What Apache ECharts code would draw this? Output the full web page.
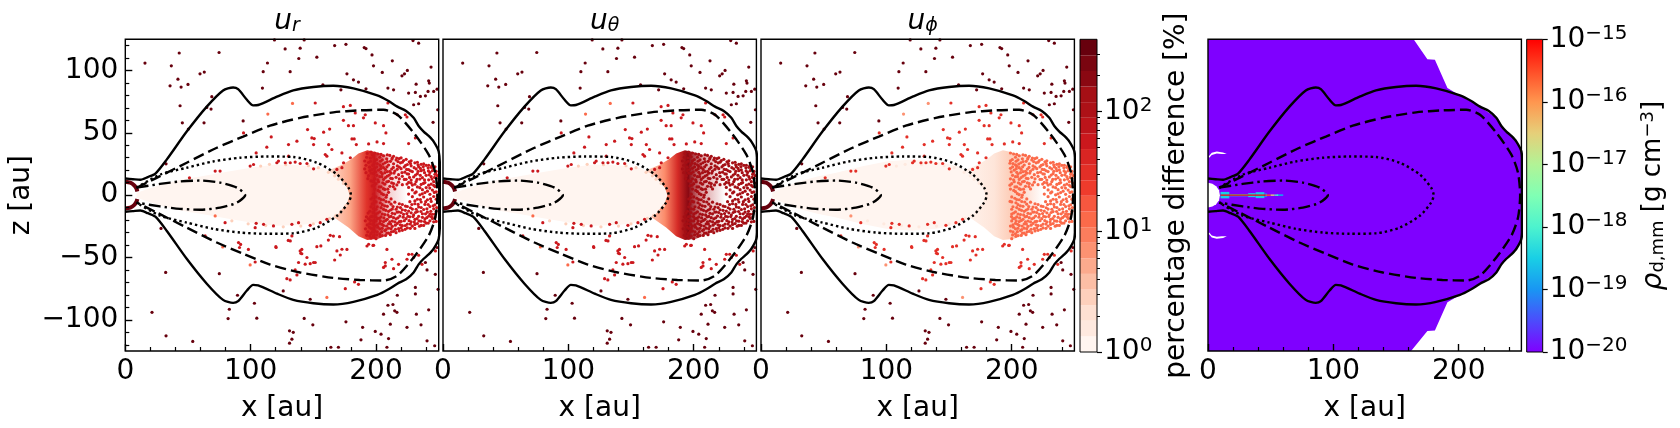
<!DOCTYPE html>
<html>
<head>
<meta charset="utf-8">
<style>
    * { margin: 0; padding: 0; }
    body { background: #fff; }
</style>
<script src="https://cdn.jsdelivr.net/npm/echarts@6/dist/echarts.min.js"></script>
</head>
<body>
<div id="chart" style="width:1680px;height:428px;"></div>
<script>
var panelTitles = ['{u|u}{s|r}', '{u|u}{s|θ}', '{u|u}{s|ϕ}'];
var xMajor = [0, 100, 200];
var xMinor = [20, 40, 60, 80, 120, 140, 160, 180, 220, 240];
var zMajor = [-100, -50, 0, 50, 100];
var zMinor = [-120, -110, -90, -80, -70, -60, -40, -30, -20, -10, 10, 20, 30, 40, 60, 70, 80, 90, 110, 120];

// contours [x au, z au]
var solidUpper = [[0,13.3],[6,12.8],[12,12.3],[18,14.5],[24,17.3],[33,28.5],[49,51],[65,71],[78,84],[86,86.4],[90,85],[97,76.5],[102,72],[106,72.3],[121,79],[134,84],[150,86.7],[166,87.7],[182,85.6],[201,80],[210,75.5],[217,71],[224,67.5],[230,62],[234,55.5],[238,51],[242,47.5],[246,43],[250,35],[251,20],[251,0]];
var solidLower = [[251,0],[251,-20],[250,-35],[246,-43],[242,-47.5],[238,-51],[234,-55.5],[230,-62],[224,-67.5],[217,-71],[210,-75.5],[201,-80],[182,-85.6],[166,-87.7],[150,-86.7],[134,-84],[121,-79],[106,-72.3],[102,-72],[97,-76.5],[90,-85],[86,-86.4],[78,-84],[65,-71],[49,-51],[33,-28.5],[24,-17.3],[18,-14.5],[12,-12.3],[6,-12.8],[0,-13.3]];
var dashedContour = [[9,5.9],[25,13.9],[49,26],[73,38],[94,47],[115.5,55.7],[139.5,62],[166,66.4],[187,68],[206,68.5],[217,64.5],[230,50],[242,32.5],[247.3,18],[249,0],[247.3,-18],[242,-32.5],[230,-50],[217,-64.5],[206,-68.5],[187,-68],[166,-66.4],[139.5,-62],[115.5,-55.7],[94,-47],[73,-38],[49,-26],[25,-13.9],[9,-5.9]];
var dottedContour = [[9,6],[27.7,16.5],[49,22],[70,27],[91.6,30],[113,31],[134,30.6],[153,26],[169,16.5],[178,6],[180,0],[178,-6],[169,-16.5],[153,-26],[134,-30.6],[113,-31],[91.6,-30],[70,-27],[49,-22],[27.7,-16.5],[9,-6]];
var dashDotContour = [[9,6],[27.7,9],[43.7,11],[59.6,11.7],[75.7,10],[89,6],[95.6,0],[89,-6],[75.7,-10],[59.6,-11.7],[43.7,-11],[27.7,-9],[9,-6]];
var ringUpper = [[0,10.7],[4,10],[7,8],[8.8,5.5],[9.6,3]];
var ringLower = [[9.6,-3],[8.8,-5.5],[7,-8],[4,-10],[0,-10.7]];

// particles outside the solid contour
var outerDots = [[15.7,105.9],[36.7,103.7],[43,114],[42,93],[35.7,87.7],[44.5,86.7],[50,88.8],[59.6,97.3],[63,98.7],[74.8,114.4],[43.7,71.7],[69,79],[65,70.4],[68.4,69],[45.5,58],[50.3,53],[62.8,58],[94,59.5],[109.4,85.9],[110,99],[113.4,106],[119,124.5],[127.5,117.3],[131.5,99],[138.4,109.6],[139.5,117.9],[142.7,124.5],[152.8,110.7],[167,120],[176,121],[190.6,118.4],[192,117.6],[196.8,112.5],[213,107.7],[198,103.7],[205,98.4],[220.7,95.7],[222.7,97.3],[225,100],[229.5,124],[234,121.9],[243.9,102.7],[232,89],[242,91.7],[242.5,89.9],[241.5,83.2],[248.7,85],[231.4,82.4],[226,81.9],[209.5,85.9],[214,84.5],[192,85.3],[186,90.7],[182,92.5],[176.8,97.3],[157.6,88.5],[172,84.5],[235.4,79.2],[239.4,79.7],[246,83.2],[230,72.5],[234,73.3],[249.2,68.5],[245.5,58.4],[32.5,25.1],[28.5,-26.7],[32.2,-62],[75,-63],[83,-91.5],[82,-99],[89.5,-80.3],[103,-86.7],[104.9,-98.7],[21.3,-94],[32.5,-112.8],[53.8,-117.3],[126,-76.8],[131,-108.8],[134,-110],[132.9,-115.5],[131,-118.7],[142.7,-98.9],[149.6,-104],[164,-122],[170,-122],[176,-101.6],[188,-116],[189.3,-106],[199.4,-109.3],[204,-111.5],[210,-115],[208.7,-122],[206,-95.5],[209.5,-88.3],[213.5,-87.7],[211.4,-103.5],[214.9,-92.8],[216.7,-94],[224.7,-106],[217,-80.3],[231.4,-79.2],[231.4,-74],[242,-92],[235.9,-104],[232.2,-95.5],[240.7,-116.8],[246.8,-120.8],[249.5,-75.5],[240.7,-60],[247.3,-63.5],[248.7,-42],[239.4,-54],[147.5,-83.5]];

// particles between the solid contour and the dense core
var midDots = [[151.5,73.9],[174,71],[179.5,72],[191.4,64.5],[190,62],[183.4,65.9],[174,60],[182,55.7],[178,55.7],[199.4,57.9],[206,55.7],[217,64.5],[223.4,64.5],[224.7,62.7],[209.5,73.9],[94.3,49.9],[116.4,46.7],[145.4,52.6],[150.7,45.4],[158.2,50.5],[163,53],[136.9,43.3],[130.2,40.6],[150.2,40.6],[162.2,40.6],[164.8,36.6],[159.5,32.6],[160.8,31.3],[180.8,45.1],[182.6,45.1],[184.3,40.6],[194.1,41.1],[200.8,42.7],[207.9,49.9],[206,41.4],[226,41.4],[231.4,45.9],[104.4,33.9],[130.2,31.3],[112.9,38.5],[148.8,45.9],[172.8,33.9],[179.5,30],[174.1,26],[168.8,20.6],[172.8,22],[102.3,24.6],[99.6,23.3],[120.9,26],[122.2,27.3],[127.6,26],[131.6,26],[135.5,26.5],[139.5,25.4],[144.9,25.4],[150.2,21.1],[71.7,19.3],[75.6,19.3],[51.2,13.9],[132.9,-32.7],[131.6,-36.7],[90.3,-38],[91.1,-42],[63.7,-32.7],[120.1,-41.3],[139.5,-44.7],[140,-46.6],[152.8,-41.3],[156,-40.7],[144.9,-50],[150.2,-54],[143.5,-55.4],[168.8,-44.7],[172.8,-43.4],[163.5,-32.2],[170.9,-33.3],[194.1,-39.4],[198.1,-40.2],[212.7,-51.4],[207.4,-54],[206,-58],[228.7,-47.4],[234,-48.2],[224.7,-51.4],[247.4,-44.7],[104.4,-22.6],[110.3,-23.4],[103.6,-26.1],[118.2,-24.7],[132.9,-23.4],[138.2,-22.1],[147.5,-24.2],[155.5,-22.1],[160.8,-19.4],[79.6,-22.1],[92,-39.5],[98.2,-43.5],[103.6,-53.6],[120.3,-42],[130,-36.3],[140.8,-43.5],[140.8,-47],[147.5,-55],[151.5,-54],[138.2,-54],[128.9,-67],[135.5,-60],[136.9,-64],[131.5,-68],[162,-36],[166,-32.8],[171.5,-48],[167,-52],[176.8,-43.5],[175.5,-75],[182.9,-69.6],[186,-71.5],[192.8,-40.8],[197.6,-40.3],[208.7,-43.5],[218,-55.5],[214,-59],[207.4,-56.8],[236.7,-55.5],[230,-50],[226,-47.5]];

var paleDots = [[133.4,73.6],[113.7,65],[77.7,-41.6],[99.6,-56],[160.8,-82],[71.7,-16.7]];

// dense right part of the core
var denseDots = [[197,32.4],[201.5,33],[206,31.6],[211,31.9],[195.5,29.8],[203,30.4],[208.5,29.2],[213,30],[218.5,29.3],[199,27.6],[205,28.3],[211.5,27.1],[216,28.2],[222,27.7],[226.5,26.8],[194,26.2],[201,25.3],[207.3,26],[214,25.2],[219.5,25.9],[225,24.6],[231,25.9],[236,24.7],[197.3,23.9],[204,23.1],[210,24.2],[217,23.4],[222.5,22.6],[228,23.5],[234,22.8],[240,23.9],[244,22.3],[199,21.5],[206,22],[212.5,20.9],[220,21.2],[226,20.4],[232,21],[238,20.2],[246,21.3],[195,19.7],[202,20],[209,18.8],[215,19.3],[223,18.4],[229,18.9],[236,19.6],[243,18.2],[248,19.1],[198,17.4],[205,16.9],[212,17.6],[218,16.4],[226,16.9],[233,17.2],[240,15.9],[247,16.7],[194,15.6],[203,14.8],[209,15.2],[216,14.3],[221,15.1],[230,14.6],[237,14],[244,14.8],[199,13.1],[206,12.6],[213,13.3],[224,12.7],[228,12.1],[235,12.9],[242,12.3],[248,13.5],[196,11.4],[202,10.8],[210,11.1],[218,10.4],[226,10.2],[232,10.9],[239,10.1],[246,10.8],[200,9.2],[207,8.8],[214,9.3],[221,8.4],[229,8.1],[236,8.6],[244,8.9],[197,7.4],[204,6.7],[211,7.1],[226,6.2],[233,6.6],[240,6.1],[247,6.9],[199,4.9],[207,4.6],[215,5],[229,4.2],[237,4.4],[245,4.1],[203,2.8],[210,2.3],[232,2.6],[239,2.1],[248,2.7],[198,0.8],[206,0.4],[226,0.9],[235,0.3],[243,0.7],[200,-1.4],[208,-1.7],[229,-1.2],[238,-1.5],[246,-1.1],[196,-3.1],[204,-3.5],[212,-3],[233,-3.3],[241,-3.7],[248,-3.2],[200,-5.4],[208,-5.1],[215,-5.6],[227,-5.2],[236,-5.5],[244,-5],[197,-7],[205,-7.6],[212,-7.2],[221,-7.5],[231,-6.9],[239,-7.4],[247,-7.7],[201,-9.3],[209,-9],[217,-9.6],[225,-9.1],[234,-9.5],[243,-9.2],[198,-11],[206,-11.4],[213,-11.1],[221,-11.7],[229,-11.2],[238,-11.5],[246,-11],[195,-12.9],[203,-13.4],[210,-13],[218,-13.5],[226,-12.8],[233,-13.2],[241,-13.6],[248,-12.9],[200,-15.1],[207,-15.6],[215,-15],[222,-15.4],[230,-15.8],[237,-14.9],[245,-15.3],[197,-17],[204,-17.5],[212,-17.1],[219,-16.8],[227,-17.4],[234,-17],[242,-16.9],[247,-17.6],[194,-19],[201,-18.8],[209,-19.4],[216,-19],[224,-18.9],[231,-19.5],[239,-19.1],[245,-18.7],[198,-20.7],[206,-21.2],[213,-20.8],[220,-21],[228,-21.4],[236,-20.9],[243,-20.6],[248,-21.1],[195,-22.9],[203,-22.6],[210,-23],[217,-22.7],[225,-23.2],[233,-22.8],[240,-22.5],[199,-24.8],[206,-24.4],[213,-25],[221,-24.5],[229,-24.9],[236,-24.3],[196,-26.6],[203,-27],[210,-26.5],[218,-26.9],[225,-26.3],[231,-26.7],[199,-28.8],[207,-28.4],[214,-29],[221,-28.2],[196,-30.7],[203,-31],[210,-30.4],[216,-30.1],[198,-32.8],[205,-32.4]];
var denseDotsMore = [[193,33.5],[196,34.6],[199,33.8],[204,32.7],[209,32.4],[214,31.2],[216.5,29.7],[220,29.9],[224,28.7],[228,27.5],[233,26.4],[238,25.1],[242,24],[247,22.7],[192.5,30.4],[198,30.7],[200.5,28.6],[203.5,27.2],[209,26.9],[212.7,28.9],[217.5,26.9],[221,26.4],[227.5,25.3],[233.5,24.4],[237.7,22.9],[241.6,21.9],[244.8,23.7],[191,27.4],[195.6,27.2],[198.6,25.6],[203,24.4],[205.6,24.9],[208.7,22.7],[213.8,22.2],[218.6,22.4],[223.6,23.9],[230.4,22],[235.4,21.4],[241.8,19.4],[247.6,17.4],[192,24],[194.8,22.4],[200.7,22.7],[203.6,21.2],[207.5,20.6],[211,19.1],[216.9,20.7],[224.4,20.6],[227.5,19.5],[233.6,19.1],[238.7,18],[245,19.6],[191,21],[196.7,20.4],[199.6,18.6],[204,18.3],[207,18],[210.6,16.1],[214.4,17.7],[220.7,18],[224.8,17.1],[231.5,16.1],[235.3,15.9],[242.4,16.3],[249,15.6],[192,18],[196,17.7],[200.7,15.9],[204.6,14.8],[207.5,14.1],[211.7,13.5],[218.6,13.1],[222.6,12.6],[226.7,14.2],[232.7,12.6],[238.7,12.2],[244.6,12.9],[246.7,14.2],[193.5,13.2],[197.7,11],[201.5,12.3],[205.4,9.9],[208.6,10.7],[212.5,9.8],[216.6,8.2],[224.7,8.9],[231,8.8],[237.8,9.4],[242,8],[248.6,9.7],[198.6,8],[202.6,6.6],[205.9,5.2],[209.4,4.8],[213.7,6.9],[228,9.8],[235,6],[242.9,5.7],[246,7.9],[201.6,3.8],[204.5,1.2],[208.5,0.1],[231,1.8],[236.9,1.1],[241,3.2],[246.5,2.2],[249,-0.2],[197.4,-1.9],[202.5,-2.5],[206,-3.7],[210.4,-5.5],[231,-4.6],[235.4,-3.5],[239.6,-5.2],[243.5,-2.9],[198.7,-5],[203.4,-6.1],[206.9,-8.6],[213.6,-9.2],[218.6,-6.9],[223.5,-8.8],[228.6,-7.5],[233.6,-7.4],[241.6,-7.5],[245.6,-8.6],[196,-9.4],[200,-11.3],[204,-10],[207.8,-12.2],[211.6,-11.9],[216,-11.3],[219.5,-10],[223.4,-12.2],[227.5,-10.1],[232,-11.3],[236,-9.9],[240.6,-11],[243.7,-13],[248.4,-10],[193.7,-14.4],[197.7,-13.9],[201.5,-14.3],[205,-15.1],[209.5,-15.9],[213,-14.6],[216.8,-13.6],[220,-13.9],[224.6,-14.8],[228,-14.2],[231.5,-13.9],[235.8,-13.1],[239.5,-15],[243,-15.2],[247,-15.2],[192.4,-17.4],[195.7,-17.4],[199.8,-17.2],[202.5,-18.6],[206.3,-18.3],[210.6,-17.4],[214,-18.1],[217.5,-18.2],[221.7,-17.7],[225.5,-17],[229.5,-17.2],[232.7,-18.8],[237,-17.8],[240.5,-18.1],[244.2,-17.3],[191.5,-20.6],[195.6,-20.3],[200,-20.7],[203.5,-20.6],[207.7,-20.3],[211,-21.4],[215,-21.4],[218.6,-21.3],[222.6,-20.5],[226.4,-20.5],[230.6,-21.6],[234.2,-20.7],[238.7,-21.2],[241.7,-22.4],[246,-21.4],[193,-23.9],[197.4,-23.3],[201,-23.8],[204.7,-23.4],[208.4,-24.8],[211.7,-23.2],[215.4,-24.1],[219.4,-23.8],[223.4,-24.4],[227.4,-23.2],[231,-23.5],[234.7,-24.9],[238,-24.3],[191.6,-27],[194.6,-25.6],[198,-26.7],[201.4,-25.7],[204.9,-26.6],[208,-27.6],[212,-26.9],[215.5,-27.4],[220,-26.3],[223.2,-27.4],[227.3,-26.6],[193.4,-29.4],[197.3,-29.1],[201,-29.4],[204.5,-29.3],[208.6,-30.4],[212.3,-29.4],[218.6,-28.7],[192.5,-32.2],[195,-32.7],[200.7,-31.9],[203.3,-33],[207.6,-32.3],[211.4,-31.7],[196,-34.4],[200,-34.9]];

// pale edge of the core, seen only as light specks
var coreEdgeDots = [[108,23.3],[115,24.7],[128,24.4],[146,23.6],[154,22],[162,18.3],[167,15.5],[170,12.8],[174,9.4],[176,-8.6],[172,-13],[168,-16.2],[163,-18.6],[150,-23],[140,-24.8],[126,-25.4],[112,-24.4],[98,-23],[85,-20.6]];

// estimated percentage per particle group, one value per panel
var outerPct = [380, 380, 380];
var midPct = [62, 62, 34];
var palePct = [11, 11, 7];
var densePct = [62, 125, 12];
var coreEdgePct = [3, 3, 1.5];

// the pale core and the dense core as outlines
var coreOutline = [[9,2],[18,5],[30,9],[45,12.5],[60,15],[80,18.5],[100,22],[120,24.5],[140,24],[158,21.5],[170,15],[177,6],[179,0],[177,-6],[170,-15],[158,-21.5],[140,-24],[120,-24.5],[100,-22],[80,-18.5],[60,-15],[45,-12.5],[30,-9],[18,-5],[9,-2]];
var coreOutlinePhi = [[9,2],[18,6],[30,11],[45,15],[60,18],[80,23],[100,27],[120,28.5],[140,27],[158,23],[170,15],[177,6],[179,0],[177,-6],[170,-15],[158,-23],[140,-27],[120,-28.5],[100,-27],[80,-23],[60,-18],[45,-15],[30,-11],[18,-6],[9,-2]];
var capOutline = [[160,19],[172,24],[180,28.5],[186,33.5],[193,36],[202,34],[212,31],[225,27],[225,0],[225,-25],[212,-31],[202,-35],[193,-36],[186,-33],[178,-26],[168,-19],[160,-14]];
var capStops = [
    [[0,'#fee5d9'],[0.3,'#fca486'],[0.5,'#e0332a'],[0.6,'#cb181d'],[0.78,'rgba(203,24,29,0.2)'],[1,'rgba(203,24,29,0)']],
    [[0,'#fee0d2'],[0.26,'#fb8b6a'],[0.42,'#d42a26'],[0.55,'#8a0812'],[0.72,'rgba(165,15,21,0.4)'],[1,'rgba(165,15,21,0)']],
    [[0,'#fff5f0'],[0.4,'#fee5d9'],[0.58,'#fdd0bc'],[0.75,'rgba(252,182,156,0.5)'],[1,'rgba(252,182,156,0)']]
];

// density panel shapes
var purpleOutline = [[0,125],[164,125],[175,109],[181,108.5],[191,86],[201,80],[217,71],[230,62],[238,51],[246,43],[250,35],[250,-35],[246,-43],[238,-51],[230,-62],[217,-71],[201,-80],[191,-86],[181,-108.5],[175,-109],[162,-125],[0,-125]];
var holeOutline = [[0,10],[3.5,9.2],[6.5,7.2],[8.8,4],[9.5,0],[8.8,-4],[6.5,-7.2],[3.5,-9.2],[0,-10]];
var crescentUp = [[0.5,31],[3,34],[7,35],[12,34.3],[15,33],[11,33],[7,33.4],[3,32.3],[1,30]];
var crescentDown = [[0.5,-31],[3,-34],[7,-35],[12,-34.3],[15,-33],[11,-33],[7,-33.4],[3,-32.3],[1,-30]];
// x0, x1, z0, z1, log10 rho
var jetCells = [[10,17,-2.6,2.6,-18.3],[17,32,-0.9,0.9,-18.3],[32,38,-1.6,1.6,-18.3],[38,45,-2.4,2.4,-18.6],[45,47,-1.4,1.4,-18.8],[55,60,-0.7,0.7,-18.8],[10,46,-0.45,0.45,-15],[46,50,-0.55,0.55,-15.6],[50,53,-0.55,0.55,-16.6],[53,56,-0.55,0.55,-17.8]];

// colour bars
var pctEdges = [1,1.35,1.82,2.45,3.3,4.46,6,8.1,10.9,14.7,19.9,26.8,36.1,48.7,65.7,88.6,119.5,161,217,293,398.1];
var pctColors = ['#fff5f0','#fee9df','#fee0d2','#fdd0bc','#fcbea5','#fcaa8d','#fc9272','#fb7d5d','#fb6a4a','#f6573f','#ef3b2c','#e32f27','#d92523','#cb181d','#bc141a','#ad1117','#a50f15','#8a0812','#7a0510','#67000d'];
var pctMajor = [0, 1, 2];
var pctMinor = [0.301,0.477,0.602,0.699,0.778,0.845,0.903,0.954,1.301,1.477,1.602,1.699,1.778,1.845,1.903,1.954,2.301,2.477];
var rhoMajor = [-20, -19, -18, -17, -16, -15];
var rainbowStops = ['#8000ff','#4c4cfc','#1996f3','#19cfe5','#4df3ce','#80ffb4','#b2f396','#e6cf79','#ff964f','#ff4c27','#ff0000'];

var font = 'DejaVu Sans';
var panelLeft = [125.3, 443, 761, 1208];
var grids = [], xAxes = [], yAxes = [], series = [];

function pctColor(pct) {
    for (var i = 0; i < pctColors.length; i++) {
        if (pct <= pctEdges[i + 1]) return pctColors[i];
    }
    return pctColors[pctColors.length - 1];
}

function rhoColor(logRho) {
    return rainbowStops[Math.round((logRho + 20) / 5 * (rainbowStops.length - 1))];
}

function polygon(g, pts, fill, z) {
    return {
        type: 'custom', xAxisIndex: g * 2, yAxisIndex: g * 2, data: [[0, 0]], z: z, silent: true,
        renderItem: function (params, api) {
            return { type: 'polygon', shape: { points: pts.map(function (p) { return api.coord(p); }) }, style: { fill: fill } };
        }
    };
}

function rects(g, cells, z) {
    // cells: [x0, x1, y0, y1, colour]
    return {
        type: 'custom', xAxisIndex: g * 2, yAxisIndex: g * 2, data: cells.map(function (c, i) { return [i, 0]; }), z: z, silent: true,
        renderItem: function (params, api) {
            var c = cells[params.dataIndex];
            var a = api.coord([c[0], c[3]]), b = api.coord([c[1], c[2]]);
            return { type: 'rect', shape: { x: a[0], y: a[1], width: b[0] - a[0], height: b[1] - a[1] }, style: { fill: c[4] } };
        }
    };
}

function dots(g, pts, color) {
    return {
        type: 'scatter', xAxisIndex: g * 2, yAxisIndex: g * 2, data: pts, symbolSize: 3.2, z: 3, silent: true, large: false,
        itemStyle: { color: color, opacity: 1 }
    };
}

function line(g, pts, width, dash, color) {
    return {
        type: 'line', xAxisIndex: g * 2, yAxisIndex: g * 2, data: pts, showSymbol: false, symbol: 'none', smooth: 0.25, z: 4, silent: true,
        lineStyle: { color: color || '#000', width: width, type: dash, cap: 'butt' }
    };
}

function addPanel(i) {
    var left = panelLeft[i];
    grids.push({ left: left, top: 39.3, width: 313.4, height: 312.7, show: true, borderColor: '#000', borderWidth: 1.4, backgroundColor: 'transparent', z: 6 });
    xAxes.push({
        gridIndex: i, type: 'value', min: 0, max: 250, position: 'bottom', z: 7,
        name: 'x [au]', nameLocation: 'middle', nameGap: 44, nameTextStyle: { fontFamily: font, fontSize: 28, color: '#000' },
        axisLine: { show: false, onZero: false }, splitLine: { show: false },
        axisTick: { inside: true, length: 7, customValues: xMajor, lineStyle: { color: '#000', width: 1.4 } },
        axisLabel: { customValues: xMajor, margin: 7, fontFamily: font, fontSize: 28, color: '#000', hideOverlap: false }
    });
    xAxes.push({
        gridIndex: i, type: 'value', min: 0, max: 250, position: 'bottom', z: 7,
        axisLine: { show: false, onZero: false }, splitLine: { show: false }, axisLabel: { show: false },
        axisTick: { inside: true, length: 4, customValues: xMinor, lineStyle: { color: '#000', width: 1.2 } }
    });
    var showZ = i === 0;
    yAxes.push({
        gridIndex: i, type: 'value', min: -125, max: 125, position: 'left', z: 7,
        name: showZ ? 'z [au]' : '', nameLocation: 'middle', nameGap: 90, nameRotate: 90, nameTextStyle: { fontFamily: font, fontSize: 28, color: '#000' },
        axisLine: { show: false, onZero: false }, splitLine: { show: false },
        axisTick: { show: showZ, inside: true, length: 7, customValues: zMajor, lineStyle: { color: '#000', width: 1.4 } },
        axisLabel: {
            show: showZ, customValues: zMajor, margin: 7, fontFamily: font, fontSize: 28, color: '#000',
            formatter: function (v) { return String(v).replace('-', '\u2212'); }
        }
    });
    yAxes.push({
        gridIndex: i, type: 'value', min: -125, max: 125, position: 'left', z: 7,
        axisLine: { show: false, onZero: false }, splitLine: { show: false }, axisLabel: { show: false },
        axisTick: { show: showZ, inside: true, length: 4, customValues: zMinor, lineStyle: { color: '#000', width: 1.2 } }
    });
}

function addContours(g) {
    series.push(line(g, solidUpper.concat(solidLower), 2.4, 'solid'));
    series.push(line(g, dashedContour, 2.4, [11, 5]));
    series.push(line(g, dottedContour, 2.4, [2.4, 3]));
    series.push(line(g, dashDotContour, 2.4, [12, 4, 2.4, 4]));
}

for (var p = 0; p < 4; p++) addPanel(p);

var allDense = denseDots.concat(denseDotsMore);
// in the u_phi panel the cap itself is pale, dots only start past x = 198
var denseDotsPhi = allDense.filter(function (d) { return d[0] > 198; });

for (p = 0; p < 3; p++) {
    series.push(polygon(p, capOutline, {
        type: 'linear', x: 0, y: 0, x2: 1, y2: 0,
        colorStops: capStops[p].map(function (s) { return { offset: s[0], color: s[1] }; })
    }, 1));
    series.push(polygon(p, p === 2 ? coreOutlinePhi : coreOutline, '#fff5f0', 2));
    series.push(dots(p, coreEdgeDots, pctColor(coreEdgePct[p])));
    series.push(dots(p, p === 2 ? denseDotsPhi : allDense, pctColor(densePct[p])));
    series.push(dots(p, paleDots, pctColor(palePct[p])));
    series.push(dots(p, midDots, pctColor(midPct[p])));
    series.push(dots(p, outerDots, pctColor(outerPct[p])));
    series.push(line(p, ringUpper, 4, 'solid', '#67000d'));
    series.push(line(p, ringLower, 4, 'solid', '#67000d'));
    addContours(p);
}

series.push(polygon(3, purpleOutline, '#7f00ff', 1));
series.push(polygon(3, holeOutline, '#fff', 2));
series.push(polygon(3, crescentUp, '#fff', 2));
series.push(polygon(3, crescentDown, '#fff', 2));
series.push(rects(3, jetCells.map(function (c) { return [c[0], c[1], c[2], c[3], rhoColor(c[4])]; }), 3));
addContours(3);

// colour bars, grids 4 and 5
function addColorbar(left, width, min, max, majors, minors, labelFmt, nameText, nameGap, nameSize, nameRich) {
    var i = grids.length;
    grids.push({ left: left, top: 39.3, width: width, height: 312.7, show: true, borderColor: '#000', borderWidth: 1, backgroundColor: 'transparent', z: 6 });
    xAxes.push({ gridIndex: i, type: 'value', min: 0, max: 1, show: false });
    xAxes.push({ gridIndex: i, type: 'value', min: 0, max: 1, show: false });
    yAxes.push({
        gridIndex: i, type: 'value', min: min, max: max, position: 'right', z: 7,
        name: nameText, nameLocation: 'middle', nameGap: nameGap, nameRotate: 90,
        nameTextStyle: { fontFamily: font, fontSize: nameSize, color: '#000', rich: nameRich },
        axisLine: { show: false, onZero: false }, splitLine: { show: false },
        axisTick: { inside: false, length: 5, customValues: majors, lineStyle: { color: '#000', width: 1.2 } },
        axisLabel: {
            customValues: majors, margin: 7, formatter: labelFmt, fontFamily: font,
            rich: {
                b: { fontFamily: font, fontSize: 28, color: '#000', lineHeight: 32 },
                s: { fontFamily: font, fontSize: 20, color: '#000', verticalAlign: 'top', lineHeight: 22 }
            }
        }
    });
    yAxes.push({
        gridIndex: i, type: 'value', min: min, max: max, position: 'right', z: 7,
        axisLine: { show: false, onZero: false }, splitLine: { show: false }, axisLabel: { show: false },
        axisTick: { show: minors.length > 0, inside: false, length: 3, customValues: minors, lineStyle: { color: '#000', width: 1 } }
    });
    return i;
}

var expLabel = function (v) { return '{b|10}{s|' + String(v).replace('-', '\u2212') + '}'; };

var barA = addColorbar(1080, 17, 0, 2.6, pctMajor, pctMinor, expLabel, 'percentage difference [%]', 66, 28, {});
series.push(rects(barA, pctColors.map(function (c, i) {
    return [0, 1, Math.log10(pctEdges[i]), Math.log10(pctEdges[i + 1]), c];
}), 2));

var barB = addColorbar(1526.7, 16, -20, -15, rhoMajor, [], expLabel, '{r|ρ}{sub|d,mm} [g cm{sup|−3}]', 97, 26, {
    r: { fontFamily: font, fontSize: 28, fontStyle: 'italic', color: '#000' },
    sub: { fontFamily: font, fontSize: 18, color: '#000', verticalAlign: 'bottom' },
    sup: { fontFamily: font, fontSize: 18, color: '#000', verticalAlign: 'top' }
});
series.push(polygon(barB, [[0, -20], [1, -20], [1, -15], [0, -15]], {
    type: 'linear', x: 0, y: 1, x2: 0, y2: 0,
    colorStops: rainbowStops.map(function (c, i) { return { offset: i / (rainbowStops.length - 1), color: c }; })
}, 2));

var chart = echarts.init(document.getElementById('chart'), null, { renderer: 'canvas' });
chart.setOption({
    animation: false,
    backgroundColor: '#fff',
    title: panelTitles.map(function (t, i) {
        return {
            text: t, left: panelLeft[i] + 156.7, top: 3, textAlign: 'center',
            textStyle: {
                fontWeight: 'normal',
                rich: {
                    u: { fontFamily: font, fontSize: 28, fontStyle: 'italic', fontWeight: 'normal', color: '#000' },
                    s: { fontFamily: font, fontSize: 19, fontStyle: 'italic', fontWeight: 'normal', color: '#000', verticalAlign: 'bottom' }
                }
            }
        };
    }),
    grid: grids,
    xAxis: xAxes,
    yAxis: yAxes,
    series: series
});
</script>
</body>
</html>
